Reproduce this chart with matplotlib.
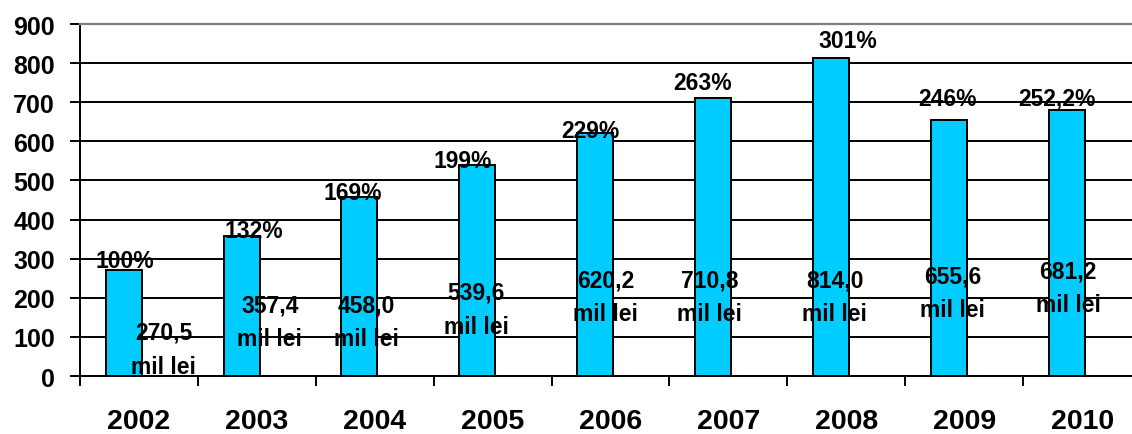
import numpy as np
import matplotlib
matplotlib.use("Agg")
import matplotlib.pyplot as plt

# data
years = ["2002", "2003", "2004", "2005", "2006", "2007", "2008", "2009", "2010"]
values = [270.5, 357.4, 458.0, 539.6, 620.2, 710.8, 814.0, 655.6, 681.2]
value_labels = ["270,5", "357,4", "458,0", "539,6", "620,2", "710,8", "814,0", "655,6", "681,2"]
pct_labels = ["100%", "132%", "169%", "199%", "229%", "263%", "301%", "246%", "252,2%"]
y_ticks = [0, 100, 200, 300, 400, 500, 600, 700, 800, 900]

# hand placed label layout (offset from category centre, height in data units)
pct_dx = [-0.12, -0.03, -0.19, -0.25, -0.17, -0.22, 0.01, -0.14, -0.21]
pct_y = [279, 355, 453, 534, 611, 734, 841, 693, 693]
val_dx = [0.21, 0.11, -0.07, -0.14, -0.04, -0.16, -0.10, -0.10, -0.12]
val_y = [95, 166, 166, 197, 230, 230, 230, 240, 253]
line_gap = 87

plt.rcParams["font.family"] = ["Liberation Sans", "DejaVu Sans"]
plt.rcParams["font.weight"] = "bold"

fig = plt.figure(figsize=(11.32, 4.35), dpi=100)
ax = fig.add_axes([0.0707, 0.1333, 0.9373, 0.8092])

x = np.arange(len(years))
ax.bar(x - 0.13, values, width=0.305, color="#00CCFF", edgecolor="black",
       linewidth=1.4, zorder=3)

for i in range(len(years)):
    ax.text(x[i] + pct_dx[i], pct_y[i], pct_labels[i], ha="center",
            va="baseline", fontsize=16.5, fontweight="bold", zorder=4)
    ax.text(x[i] + val_dx[i], val_y[i], value_labels[i], ha="center",
            va="baseline", fontsize=16.5, fontweight="bold", zorder=4)
    ax.text(x[i] + val_dx[i], val_y[i] - line_gap, "mil lei", ha="center",
            va="baseline", fontsize=16.5, fontweight="bold", zorder=4)

ax.set_xlim(-0.5, 8.5)
ax.set_ylim(0, 900)
ax.set_yticks(y_ticks)
ax.set_yticklabels([str(v) for v in y_ticks], fontsize=18, fontweight="bold")
ax.set_xticks(x)
ax.set_xticklabels(years, fontsize=20.5, fontweight="bold")
ax.set_xticks(np.arange(len(years) + 1) - 0.5, minor=True)

ax.tick_params(axis="x", which="major", length=0, pad=23)
ax.tick_params(axis="x", which="minor", length=7, width=1.4, direction="out")
ax.tick_params(axis="y", length=7, width=1.4, direction="out", pad=11)

ax.grid(axis="y", color="black", linewidth=1.4, zorder=0)
ax.set_axisbelow(True)

ax.spines["right"].set_visible(False)
ax.spines["top"].set_color("#808080")
ax.spines["top"].set_linewidth(1.6)
ax.spines["left"].set_linewidth(1.4)
ax.spines["bottom"].set_linewidth(1.4)

fig.savefig("out.png", dpi=100)
